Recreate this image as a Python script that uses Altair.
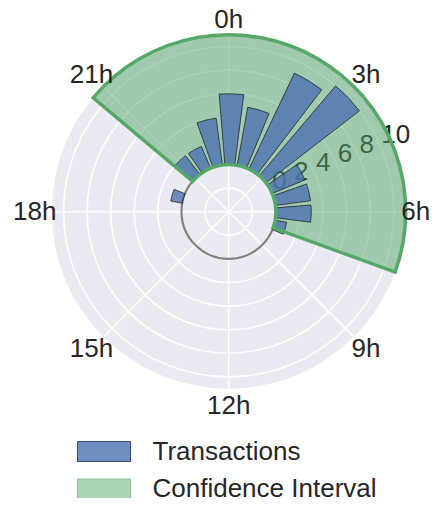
import math
import pandas as pd
import altair as alt

# ---------------- data ----------------
HOURS = list(range(24))
TRANSACTIONS = [6, 5, 9, 10, 3, 3, 3, 1, 0, 0, 0, 0,
                0, 0, 0, 0, 0, 0, 0, 1, 0, 2, 2, 4]
CI_START_HOUR = 20.67   # confidence interval start (hours)
CI_END_HOUR = 7.33      # confidence interval end (hours)
SERIES = ["Transactions", "Confidence Interval"]

R_MIN, R_MAX = -4, 11
RADIAL_TICKS = [0, 2, 4, 6, 8, 10]
RADIAL_LABELS = [str(v) for v in RADIAL_TICKS]
GRID_RINGS = [-2, 0, 2, 4, 6, 8, 10]
HOUR_TICKS = [0, 3, 6, 9, 12, 15, 18, 21]
HOUR_LABELS = [f"{h}h" for h in HOUR_TICKS]

# ---------------- layout / style ----------------
W = H = 354
FONT = "Liberation Sans"
TXT = "#262626"
BLUE = "#4C72B0"
GREEN = "#55A868"
BAR_WIDTH = 0.8        # in hours
BAR_SHIFT = 0.09       # in hours
RLABEL_ANGLE = 67.5 * math.pi / 180
SPAN = R_MAX - R_MIN

theta_scale = alt.Scale(domain=[0, 24], range=[0, 2 * math.pi], zero=False, nice=False)
r_scale = alt.Scale(type="linear", domain=[R_MIN, R_MAX], range=[0, W / 2], zero=False, nice=False)
xs = alt.Scale(domain=[-SPAN, SPAN], zero=False, nice=False)
ys = alt.Scale(domain=[-SPAN, SPAN], zero=False, nice=False)


def th(field):
    return alt.Theta(field, type="quantitative", scale=theta_scale, stack=None)


def rad(field):
    return alt.Radius(field, type="quantitative", scale=r_scale)


# background disk
bg_df = pd.DataFrame({"t0": [0], "t1": [24], "r0": [R_MIN], "r1": [R_MAX]})
bg = alt.Chart(bg_df).mark_arc(fill="#EAEAF2").encode(
    theta=th("t0"), theta2="t1", radius=rad("r1"), radius2="r0"
)

# grid rings
ring_df = pd.DataFrame({"r": GRID_RINGS, "t0": 0, "t1": 24})
rings = alt.Chart(ring_df).mark_arc(fillOpacity=0, stroke="white", strokeWidth=1.6).encode(
    theta=th("t0"), theta2="t1", radius=rad("r")
)

# spokes
spoke_df = pd.DataFrame({"h": HOUR_TICKS})
spoke_df["x0"] = 0.0
spoke_df["y0"] = 0.0
spoke_df["x1"] = [SPAN * math.sin(h / 24 * 2 * math.pi) for h in HOUR_TICKS]
spoke_df["y1"] = [SPAN * math.cos(h / 24 * 2 * math.pi) for h in HOUR_TICKS]
spokes = alt.Chart(spoke_df).mark_rule(color="white", strokeWidth=1.6).encode(
    x=alt.X("x0:Q", scale=xs, axis=None),
    y=alt.Y("y0:Q", scale=ys, axis=None),
    x2="x1", y2="y1",
)

# zero circle
zero_df = pd.DataFrame({"r": [0], "t0": [0], "t1": [24]})
zero_circle = alt.Chart(zero_df).mark_arc(fillOpacity=0, stroke="#808080", strokeWidth=2.2).encode(
    theta=th("t0"), theta2="t1", radius=rad("r")
)

# radial tick labels
rl_df = pd.DataFrame({"v": RADIAL_TICKS, "label": RADIAL_LABELS})
rlabels = alt.Chart(rl_df).mark_text(
    align="left", baseline="bottom", fontSize=26, font=FONT, color=TXT
).encode(theta=alt.value(RLABEL_ANGLE), radius=rad("v"), text="label:N")

# confidence interval wedge
ci_df = pd.DataFrame({"t0": [CI_START_HOUR - 24], "t1": [CI_END_HOUR], "r0": [0], "r1": [R_MAX]})
ci_fill = alt.Chart(ci_df).mark_arc(fill=GREEN, fillOpacity=0.5).encode(
    theta=th("t0"), theta2="t1", radius=rad("r1"), radius2="r0"
)
ci_line = alt.Chart(ci_df).mark_arc(fillOpacity=0, stroke=GREEN, strokeWidth=3.5).encode(
    theta=th("t0"), theta2="t1", radius=rad("r1"), radius2="r0"
)

# bars
bar_df = pd.DataFrame({"hour": HOURS, "value": TRANSACTIONS})
bars = (
    alt.Chart(bar_df)
    .transform_filter("datum.value > 0")
    .transform_calculate(
        t0=f"datum.hour - {BAR_WIDTH / 2} + {BAR_SHIFT}",
        t1=f"datum.hour + {BAR_WIDTH / 2} + {BAR_SHIFT}",
        base="0",
    )
    .mark_arc(fill=BLUE, fillOpacity=0.8, stroke="#1a1a1a", strokeWidth=0.8, strokeOpacity=0.9)
    .encode(theta=th("t0"), theta2="t1", radius=rad("value"), radius2="base")
)

# hour labels (pulled in slightly where the canvas edge would clip them)
hl_df = pd.DataFrame({"h": HOUR_TICKS, "label": HOUR_LABELS})
hlabels = (
    alt.Chart(hl_df)
    .transform_calculate(rpx="datum.h == 6 ? 187 : (datum.h == 0 ? 192 : 194)")
    .mark_text(align="center", baseline="middle", fontSize=26, font=FONT, color=TXT)
    .encode(theta=th("h"), radius=alt.Radius("rpx:Q", scale=None), text="label:N")
)

# legend (dummy invisible layer)
RECT = "M-2.65,-1H2.65V1H-2.65Z"
legend = alt.Legend(
    title=None, orient="none", legendX=39.3, legendY=403.8, direction="vertical",
    symbolType=RECT, symbolSize=400, symbolStrokeWidth=1,
    labelFontSize=26, labelFont=FONT, labelColor=TXT, labelOffset=35.5,
    labelLimit=400, rowPadding=11.5, padding=0,
)
leg_df = pd.DataFrame({"series": SERIES})
leg = alt.Chart(leg_df).mark_point(shape=RECT, size=0, filled=True, opacity=1, strokeWidth=1).encode(
    fill=alt.Fill("series:N", scale=alt.Scale(domain=SERIES, range=["#708EC0", "#AAD4B4"]), legend=legend),
    stroke=alt.Stroke("series:N", scale=alt.Scale(domain=SERIES, range=["#3b4a63", "#8dbd9a"]), legend=legend),
)

chart = alt.layer(
    bg, rings, spokes, zero_circle, rlabels, ci_fill, bars, ci_line, hlabels, leg
).properties(
    width=W, height=H,
    autosize=alt.AutoSizeParams(type="none"),
    padding={"left": 43.7, "top": 26.7, "right": 23.3, "bottom": 109.3},
).configure_view(strokeWidth=0)

chart.save("out.html", embed_options={"renderer": "svg", "actions": False})
